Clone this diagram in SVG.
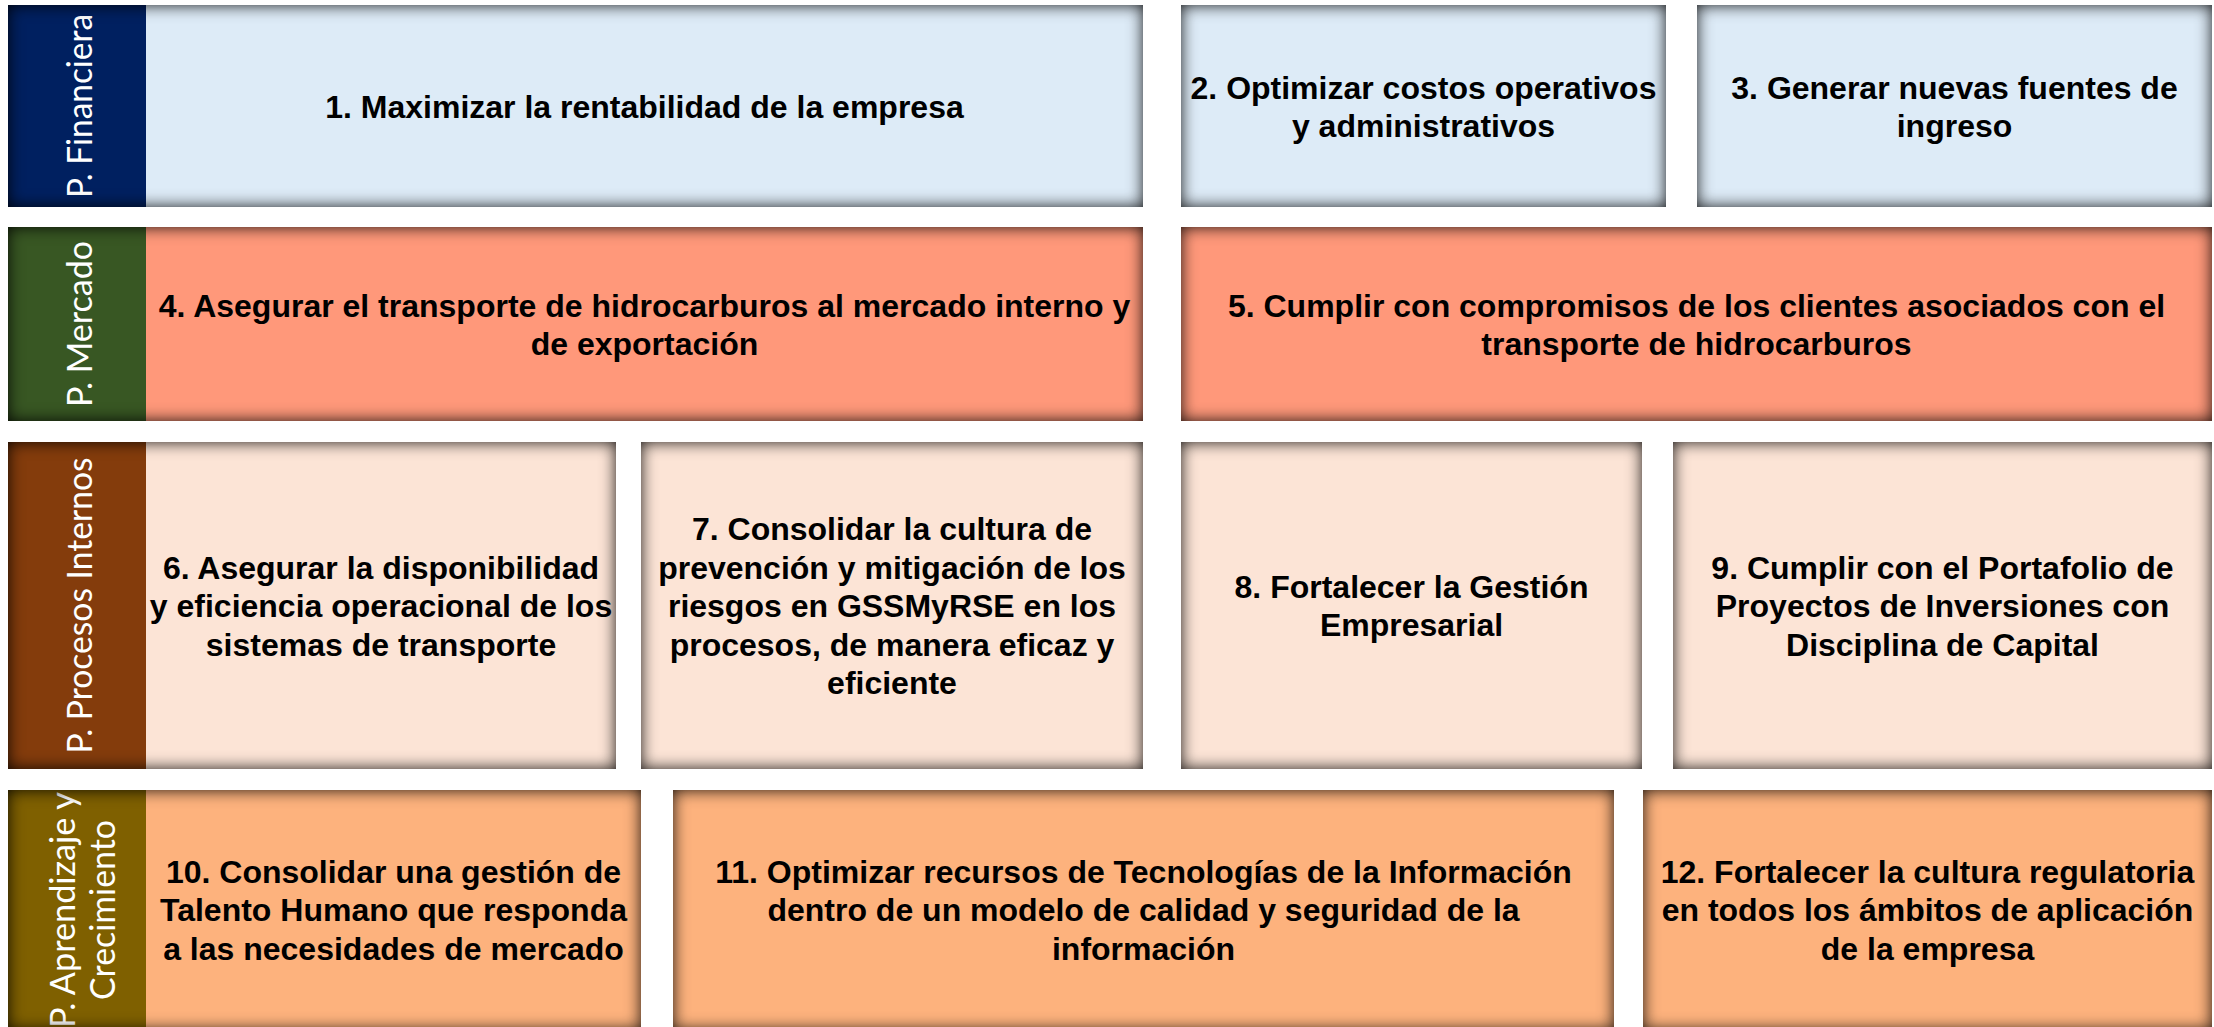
<svg xmlns="http://www.w3.org/2000/svg" width="2214" height="1027" viewBox="0 0 2214 1027">
<defs>
<style>
.t{font-family:"Liberation Sans",Arial,sans-serif;font-weight:bold;font-size:32px;fill:#000;text-anchor:middle}
.l{font-family:Lato,"Open Sans",sans-serif;font-size:34px;fill:#fff;text-anchor:middle}
.fin{fill:#DDEBF7}
.mer{fill:#FF987A}
.pro{fill:#FCE4D6}
.apr{fill:#FDB27D}
.sh{fill:#000}
</style>
<filter id="inset" x="0" y="0" width="1" height="1" color-interpolation-filters="sRGB">
<feGaussianBlur in="SourceAlpha" stdDeviation="8" result="b"/>
<feComposite in="SourceAlpha" in2="b" operator="arithmetic" k1="0" k2="1" k3="-1" k4="0" result="edge"/>
<feFlood flood-color="#000" flood-opacity="0.9"/>
<feComposite in2="edge" operator="in"/>
</filter>
</defs>
<rect width="2214" height="1027" fill="#fff"/>

<!-- Row labels -->
<g id="label-financiera">
<rect x="8" y="5" width="138" height="202" fill="#002060"/>
<text class="l" transform="translate(92,106) rotate(-90)" textLength="184" lengthAdjust="spacingAndGlyphs">P. Financiera</text>
</g>
<g id="label-mercado">
<rect x="8" y="227" width="138" height="194" fill="#385723"/>
<text class="l" transform="translate(92,324) rotate(-90)" textLength="166" lengthAdjust="spacingAndGlyphs">P. Mercado</text>
</g>
<g id="label-procesos">
<rect x="8" y="442" width="138" height="327" fill="#843C0C"/>
<text class="l" transform="translate(92,605.5) rotate(-90)" textLength="296" lengthAdjust="spacingAndGlyphs">P. Procesos Internos</text>
</g>
<g id="label-aprendizaje">
<rect x="8" y="790" width="138" height="240" fill="#7F6000"/>
<text class="l" transform="translate(75,910) rotate(-90)" textLength="236" lengthAdjust="spacingAndGlyphs">P. Aprendizaje y</text>
<text class="l" transform="translate(115,910) rotate(-90)" textLength="180" lengthAdjust="spacingAndGlyphs">Crecimiento</text>
</g>

<!-- Objectives -->
<g id="obj1">
<rect class="fin" x="146" y="5" width="997" height="202"/>
<text class="t" x="644.5" y="117.5">1. Maximizar la rentabilidad de la empresa</text>
</g>
<g id="obj2">
<rect class="fin" x="1181" y="5" width="485" height="202"/>
<text class="t" x="1423.5" y="98.5">2. Optimizar costos operativos</text>
<text class="t" x="1423.5" y="137">y administrativos</text>
</g>
<g id="obj3">
<rect class="fin" x="1697" y="5" width="515" height="202"/>
<text class="t" x="1954.5" y="98.5">3. Generar nuevas fuentes de</text>
<text class="t" x="1954.5" y="137">ingreso</text>
</g>

<g id="obj4">
<rect class="mer" x="146" y="227" width="997" height="194"/>
<text class="t" x="644.5" y="316.5">4. Asegurar el transporte de hidrocarburos al mercado interno y</text>
<text class="t" x="644.5" y="355">de exportación</text>
</g>
<g id="obj5">
<rect class="mer" x="1181" y="227" width="1031" height="194"/>
<text class="t" x="1696.5" y="316.5">5. Cumplir con compromisos de los clientes asociados con el</text>
<text class="t" x="1696.5" y="355">transporte de hidrocarburos</text>
</g>

<g id="obj6">
<rect class="pro" x="146" y="442" width="470" height="327"/>
<text class="t" x="381" y="578.5">6. Asegurar la disponibilidad</text>
<text class="t" x="381" y="617">y eficiencia operacional de los</text>
<text class="t" x="381" y="655.5">sistemas de transporte</text>
</g>
<g id="obj7">
<rect class="pro" x="641" y="442" width="502" height="327"/>
<text class="t" x="892" y="540">7. Consolidar la cultura de</text>
<text class="t" x="892" y="578.5">prevención y mitigación de los</text>
<text class="t" x="892" y="617">riesgos en GSSMyRSE en los</text>
<text class="t" x="892" y="655.5">procesos, de manera eficaz y</text>
<text class="t" x="892" y="694">eficiente</text>
</g>
<g id="obj8">
<rect class="pro" x="1181" y="442" width="461" height="327"/>
<text class="t" x="1411.5" y="597.5">8. Fortalecer la Gestión</text>
<text class="t" x="1411.5" y="636">Empresarial</text>
</g>
<g id="obj9">
<rect class="pro" x="1673" y="442" width="539" height="327"/>
<text class="t" x="1942.5" y="578.5">9. Cumplir con el Portafolio de</text>
<text class="t" x="1942.5" y="617">Proyectos de Inversiones con</text>
<text class="t" x="1942.5" y="655.5">Disciplina de Capital</text>
</g>

<g id="obj10">
<rect class="apr" x="146" y="790" width="495" height="240"/>
<text class="t" x="393.5" y="882.5">10. Consolidar una gestión de</text>
<text class="t" x="393.5" y="921">Talento Humano que responda</text>
<text class="t" x="393.5" y="959.5">a las necesidades de mercado</text>
</g>
<g id="obj11">
<rect class="apr" x="673" y="790" width="941" height="240"/>
<text class="t" x="1143.5" y="882.5">11. Optimizar recursos de Tecnologías de la Información</text>
<text class="t" x="1143.5" y="921">dentro de un modelo de calidad y seguridad de la</text>
<text class="t" x="1143.5" y="959.5">información</text>
</g>
<g id="obj12">
<rect class="apr" x="1643" y="790" width="569" height="240"/>
<text class="t" x="1927.5" y="882.5">12. Fortalecer la cultura regulatoria</text>
<text class="t" x="1927.5" y="921">en todos los ámbitos de aplicación</text>
<text class="t" x="1927.5" y="959.5">de la empresa</text>
</g>

<!-- inner shading of shapes -->
<g id="shading">
<rect class="sh" filter="url(#inset)" x="8" y="5" width="1135" height="202"/>
<rect class="sh" filter="url(#inset)" x="1181" y="5" width="485" height="202"/>
<rect class="sh" filter="url(#inset)" x="1697" y="5" width="515" height="202"/>
<rect class="sh" filter="url(#inset)" x="8" y="227" width="1135" height="194"/>
<rect class="sh" filter="url(#inset)" x="1181" y="227" width="1031" height="194"/>
<rect class="sh" filter="url(#inset)" x="8" y="442" width="608" height="327"/>
<rect class="sh" filter="url(#inset)" x="641" y="442" width="502" height="327"/>
<rect class="sh" filter="url(#inset)" x="1181" y="442" width="461" height="327"/>
<rect class="sh" filter="url(#inset)" x="1673" y="442" width="539" height="327"/>
<rect class="sh" filter="url(#inset)" x="8" y="790" width="633" height="240"/>
<rect class="sh" filter="url(#inset)" x="673" y="790" width="941" height="240"/>
<rect class="sh" filter="url(#inset)" x="1643" y="790" width="569" height="240"/>
</g>
</svg>
